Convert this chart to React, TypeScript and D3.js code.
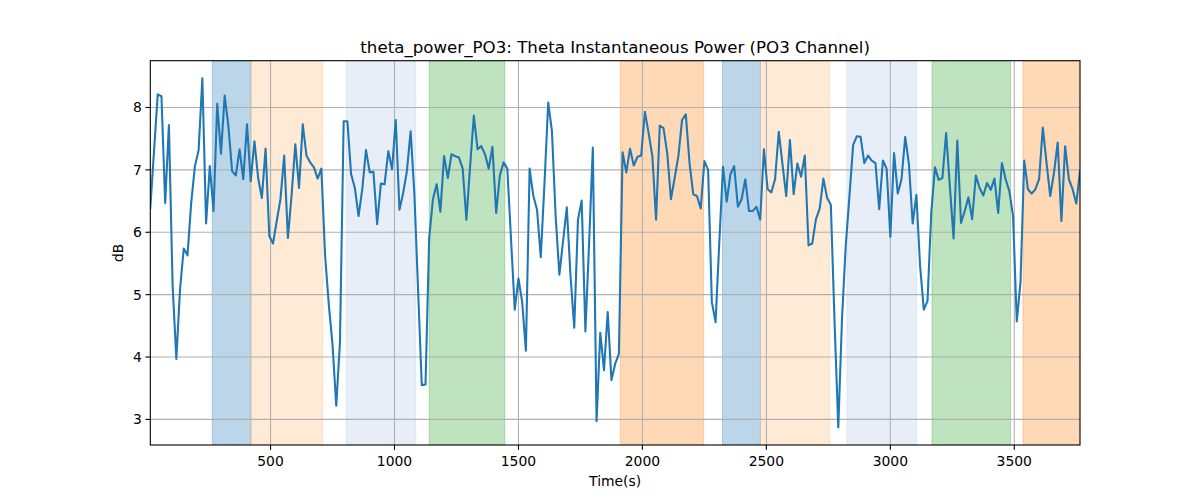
import React from "react";
import * as d3 from "d3";

const T0 = 15;
const STEP = 15;
const power = [
  6.39, 7.3, 8.21, 8.18, 6.47, 7.72, 5.15, 3.97, 5.09, 5.74,
  5.63, 6.47, 7.06, 7.32, 8.47, 6.14, 7.06, 6.34, 8.06, 7.26,
  8.19, 7.7, 6.98, 6.91, 7.33, 6.85, 7.73, 6.82, 7.46, 6.87,
  6.55, 7.34, 5.94, 5.82, 6.18, 6.53, 7.23, 5.91, 6.6, 7.41,
  6.71, 7.73, 7.23, 7.12, 7.04, 6.86, 7.02, 5.63, 4.84, 4.2,
  3.22, 4.24, 7.78, 7.78, 6.93, 6.71, 6.26, 6.69, 7.32, 6.96,
  6.97, 6.13, 6.78, 6.77, 7.3, 7.01, 7.8, 6.36, 6.63, 6.98,
  7.62, 6.63, 5.09, 3.55, 3.56, 5.91, 6.53, 6.77, 6.33, 7.22,
  6.87, 7.25, 7.22, 7.2, 7.02, 6.2, 7.06, 7.87, 7.33, 7.38,
  7.25, 7.02, 7.37, 6.31, 6.91, 7.12, 7.02, 5.89, 4.76, 5.26,
  4.88, 4.1, 7.02, 6.58, 6.36, 5.6, 6.79, 8.08, 7.62, 6.26,
  5.32, 5.86, 6.4, 5.3, 4.47, 6.2, 6.51, 4.41, 5.83, 7.36,
  2.97, 4.39, 3.79, 4.72, 3.63, 3.89, 4.05, 7.28, 6.96, 7.34,
  7.07, 7.21, 7.23, 7.93, 7.59, 7.22, 6.2, 7.71, 7.67, 7.27,
  6.53, 6.87, 7.22, 7.8, 7.89, 7.11, 6.61, 6.58, 6.38, 7.14,
  7.0, 4.88, 4.56, 5.83, 7.05, 6.49, 6.93, 7.06, 6.41, 6.53,
  6.85, 6.34, 6.34, 6.41, 6.2, 7.33, 6.69, 6.64, 6.85, 7.61,
  7.09, 6.58, 7.48, 6.61, 7.1, 6.89, 7.23, 5.79, 5.82, 6.21,
  6.38, 6.86, 6.55, 6.44, 4.56, 2.87, 4.61, 5.78, 6.58, 7.4,
  7.54, 7.53, 7.11, 7.23, 7.15, 7.11, 6.37, 7.15, 7.02, 5.93,
  7.27, 6.62, 6.85, 7.53, 7.09, 6.14, 6.6, 5.46, 4.76, 4.9,
  6.31, 7.04, 6.84, 6.87, 7.59, 6.74, 5.9, 7.47, 6.15, 6.34,
  6.56, 6.21, 6.91, 6.71, 6.59, 6.79, 6.68, 6.86, 6.31, 7.11,
  6.85, 6.66, 6.26, 4.57, 5.2, 7.15, 6.69, 6.62, 6.69, 6.85,
  7.68, 7.11, 6.58, 6.95, 7.44, 6.18, 7.38, 6.85, 6.69, 6.46,
  6.98,
];
const times = power.map((_, i) => T0 + STEP * i);

const spanStart = [265, 421, 805, 1140, 1911, 2323, 2476, 2825, 3168, 3535];
const spanEnd = [421, 711, 1086, 1445, 2247, 2476, 2756, 3106, 3485, 3800];
const spanKind = ["a", "b", "c", "d", "e", "a", "b", "c", "d", "e"];
const kindColor: Record<string, string> = {
  a: "#1f77b4",
  b: "#ffbb78",
  c: "#aec7e8",
  d: "#2ca02c",
  e: "#ff7f0e",
};
const xTicks = [500, 1000, 1500, 2000, 2500, 3000, 3500];
const yTicks = [3, 4, 5, 6, 7, 8];

const W = 1200;
const H = 500;
const M = { left: 150.3, right: 1080, top: 60.7, bottom: 445 };
const FONT = "DejaVu Sans, sans-serif";

export default function App() {
  const xMin = times[0];
  const xMax = times[times.length - 1];
  const yMinD = d3.min(power) as number;
  const yMaxD = d3.max(power) as number;
  const pad = (yMaxD - yMinD) * 0.05;
  const x = d3.scaleLinear().domain([xMin, xMax]).range([M.left, M.right]);
  const y = d3.scaleLinear().domain([yMinD - pad, yMaxD + pad]).range([M.bottom, M.top]);
  const line = d3
    .line<number>()
    .x((_, i) => x(times[i]))
    .y((d) => y(d));

  return (
    <svg width={W} height={H} style={{ display: "block", position: "absolute", left: 0, top: 0 }}>
      <rect width={W} height={H} fill="#fff" />
      <defs>
        <clipPath id="plotclip">
          <rect x={M.left} y={M.top} width={M.right - M.left} height={M.bottom - M.top} />
        </clipPath>
      </defs>
      <g clipPath="url(#plotclip)">
        {spanStart.map((s, i) => (
          <rect
            key={i}
            x={x(s)}
            y={M.top}
            width={x(Math.min(spanEnd[i], xMax + 100)) - x(s)}
            height={M.bottom - M.top}
            fill={kindColor[spanKind[i]]}
            fillOpacity={0.3}
            stroke={kindColor[spanKind[i]]}
            strokeOpacity={0.3}
            strokeWidth={1}
          />
        ))}
        {xTicks.map((t) => (
          <line key={"gx" + t} x1={x(t)} x2={x(t)} y1={M.top} y2={M.bottom} stroke="#b0b0b0" strokeWidth={1.1} />
        ))}
        {yTicks.map((t) => (
          <line key={"gy" + t} x1={M.left} x2={M.right} y1={y(t)} y2={y(t)} stroke="#b0b0b0" strokeWidth={1.1} />
        ))}
        <path d={line(power) || ""} fill="none" stroke="#1f77b4" strokeWidth={2.08} strokeLinejoin="round" strokeLinecap="square" />
      </g>
      <rect
        x={M.left}
        y={M.top}
        width={M.right - M.left}
        height={M.bottom - M.top}
        fill="none"
        stroke="#000"
        strokeWidth={1.1}
      />
      {xTicks.map((t) => (
        <g key={"tx" + t}>
          <line x1={x(t)} x2={x(t)} y1={M.bottom} y2={M.bottom + 4.86} stroke="#000" strokeWidth={1.1} />
          <text x={x(t)} y={M.bottom + 21} textAnchor="middle" fontFamily={FONT} fontSize={13.9} fill="#000">
            {t}
          </text>
        </g>
      ))}
      {yTicks.map((t) => (
        <g key={"ty" + t}>
          <line x1={M.left - 4.86} x2={M.left} y1={y(t)} y2={y(t)} stroke="#000" strokeWidth={1.1} />
          <text
            x={M.left - 8.5}
            y={y(t)}
            dy="0.35em"
            textAnchor="end"
            fontFamily={FONT}
            fontSize={13.9}
            fill="#000"
          >
            {t}
          </text>
        </g>
      ))}
      <text x={(M.left + M.right) / 2} y={486} textAnchor="middle" fontFamily={FONT} fontSize={13.9} fill="#000">
        Time(s)
      </text>
      <text
        transform={`translate(123,${(M.top + M.bottom) / 2}) rotate(-90)`}
        textAnchor="middle"
        fontFamily={FONT}
        fontSize={13.9}
        fill="#000"
      >
        dB
      </text>
      <text x={(M.left + M.right) / 2} y={52.5} textAnchor="middle" fontFamily={FONT} fontSize={16.67} fill="#000">
        theta_power_PO3: Theta Instantaneous Power (PO3 Channel)
      </text>
    </svg>
  );
}
